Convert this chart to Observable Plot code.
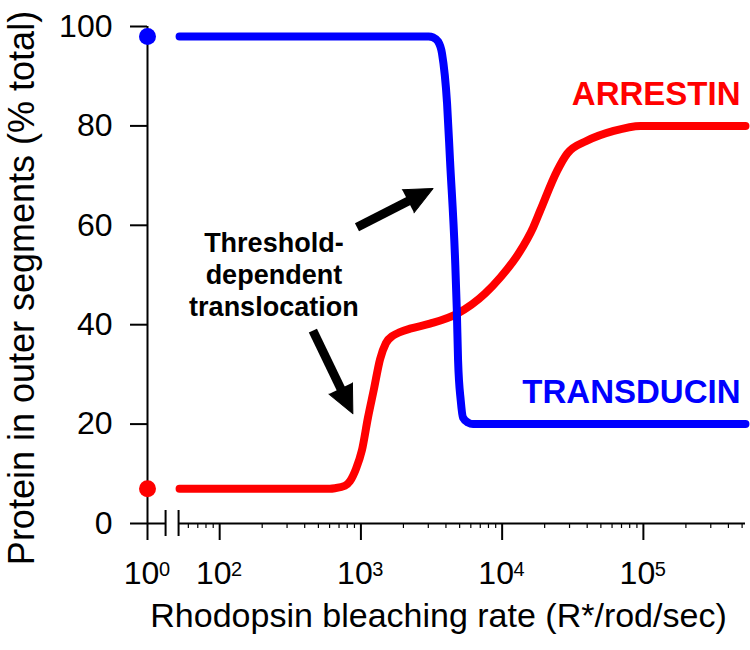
<!DOCTYPE html>
<html><head><meta charset="utf-8">
<script src="https://cdn.jsdelivr.net/npm/d3@7"></script>
<script src="https://cdn.jsdelivr.net/npm/@observablehq/plot@0.6"></script>
<style>body{margin:0;background:#fff;}</style>
</head><body><div id="chart"></div>
<script>
// ---- data ----
const transducinRate = [52, 2500, 3020, 3243, 3516, 3750, 4074, 4276, 4645, 4775, 4875, 5093, 5284, 5741, 6223, 7600, 528000];
const transducinPct  = [98, 98, 98, 97.8, 97.0, 94.6, 84.5, 73, 53, 43, 32.8, 24.7, 21.3, 20.3, 20, 20, 20];
const arrestinRate = [52, 603, 655, 771, 836, 923, 1016, 1122, 1236, 1365, 1503, 1687, 1892, 2228, 3083, 4797, 7586, 9700, 13200, 16600, 18621, 24547, 28840, 39811, 61660, 95499, 528000];
const arrestinPct  = [7, 7, 7.1, 7.6, 8.5, 11, 14.7, 21.3, 27, 33, 36.3, 37.8, 38.5, 39.2, 40.2, 42.2, 46.3, 49.5, 54.5, 59.6, 63, 71, 74.4, 77, 79, 80, 80];
const darkRate = [1, 1];               // 10^0 (dark) points on the broken axis
const darkPct = [98, 7];
const darkColor = ["#0000ff", "#ff0000"];
const seriesNames = ["ARRESTIN", "TRANSDUCIN"];
const seriesLabelPct = [86.3, 26.4];
const seriesColor = ["#ff0000", "#0000ff"];
const majorTicks = [1, 100, 1000, 10000, 100000];
const majorExp = ["0", "2", "3", "4", "5"];
const minorTicks = [60, 70, 80, 90, 200, 300, 400, 500, 600, 700, 800, 900,
  2000, 3000, 4000, 5000, 6000, 7000, 8000, 9000,
  20000, 30000, 40000, 50000, 60000, 70000, 80000, 90000,
  200000, 300000, 400000, 500000];
const yTicks = [0, 20, 40, 60, 80, 100];
const noteText = "Threshold-\ndependent\ntranslocation";
const noteRate = 242, notePct = 50.3;
const arrowFromRate = [938, 457];
const arrowFromPct = [59.6, 38.8];
const arrowToRate = [3243, 877];
const arrowToPct = [67.4, 22.1];

// ---- broken log axis ----
const BREAK_AT = 1.489;            // where 10^0 sits on the broken axis
const X_MAX = 5.723;
const GAP = [1.617, 1.709];        // axis break
const pos = r => r <= 1 ? BREAK_AT : Math.log10(r);

const W = 750, H = 650, ML = 147, MR = 5, MT = 26, MB = 127;
const PX_X = (W - ML - MR) / (X_MAX - BREAK_AT);
const PX_Y = (H - MT - MB) / 100;

const tData = transducinRate.map((r, i) => ({r, p: transducinPct[i]}));
const aData = arrestinRate.map((r, i) => ({r, p: arrestinPct[i]}));
const dots = darkRate.map((r, i) => ({r, p: darkPct[i], c: darkColor[i]}));
const labels = seriesNames.map((n, i) => ({n, p: seriesLabelPct[i], c: seriesColor[i]}));
const arrows = arrowFromRate.map((r, i) => ({x1: pos(r), y1: arrowFromPct[i], x2: pos(arrowToRate[i]), y2: arrowToPct[i]}));
const FONT = "Liberation Sans, Arial, Helvetica, sans-serif";

const chart = Plot.plot({
  width: W, height: H, marginLeft: ML, marginRight: MR, marginTop: MT, marginBottom: MB,
  x: {type: "linear", domain: [BREAK_AT, X_MAX], axis: null},
  y: {domain: [0, 100], axis: null},
  style: {fontFamily: FONT, background: "white", overflow: "visible"},
  marks: [
    // y axis line and ticks
    Plot.ruleX([BREAK_AT], {x: d => d, y1: () => 0, y2: () => 100, stroke: "black", strokeWidth: 2}),
    Plot.ruleY(yTicks, {y: d => d, x1: () => BREAK_AT - 17 / PX_X, x2: () => BREAK_AT, stroke: "black", strokeWidth: 2}),
    Plot.text(yTicks, {y: d => d, frameAnchor: "left", dx: -35, textAnchor: "end", text: d => String(d), fontSize: 32, fill: "black"}),
    // x axis with break
    Plot.ruleY([0], {y: d => d, x1: () => BREAK_AT, x2: () => GAP[0], stroke: "black", strokeWidth: 2}),
    Plot.ruleY([0], {y: d => d, x1: () => GAP[1], x2: () => X_MAX, stroke: "black", strokeWidth: 2}),
    Plot.ruleX(GAP, {x: d => d, y1: () => 13 / PX_Y, y2: () => -13 / PX_Y, stroke: "black", strokeWidth: 2}),
    Plot.ruleX(majorTicks, {x: pos, y1: () => 0, y2: () => -17 / PX_Y, stroke: "black", strokeWidth: 2}),
    Plot.ruleX(minorTicks, {x: pos, y1: () => 0, y2: () => -5 / PX_Y, stroke: "black", strokeWidth: 1.2}),
    Plot.text(majorTicks, {x: pos, frameAnchor: "bottom", text: () => "10", dx: -6, dy: 60, fontSize: 32, fill: "black"}),
    Plot.text(majorTicks, {x: pos, frameAnchor: "bottom", text: (d, i) => majorExp[i], dx: 17, dy: 52, fontSize: 20, fill: "black"}),
    // axis titles
    Plot.text(["Rhodopsin bleaching rate (R*/rod/sec)"], {frameAnchor: "bottom", text: d => d, dx: -8, dy: 103, fontSize: 34, fill: "black"}),
    Plot.text(["Protein in outer segments (% total)"], {frameAnchor: "left", textAnchor: "middle", text: d => d, rotate: -90, dx: -125, dy: 13, fontSize: 36, fill: "black"}),
    // curves
    Plot.line(aData, {x: d => pos(d.r), y: "p", stroke: "#ff0000", strokeWidth: 8, curve: "monotone-x", strokeLinecap: "round", strokeLinejoin: "round"}),
    Plot.line(tData, {x: d => pos(d.r), y: "p", stroke: "#0000ff", strokeWidth: 8, curve: "monotone-x", strokeLinecap: "round", strokeLinejoin: "round"}),
    Plot.dot(dots, {x: d => pos(d.r), y: "p", fill: "c", r: 8.5, stroke: "none"}),
    // series labels
    Plot.text(labels, {x: () => X_MAX, y: "p", text: "n", fill: "c", textAnchor: "end", dx: -5, fontSize: 33, fontWeight: "bold"}),
    // annotation
    Plot.text([noteText], {x: () => pos(noteRate), y: () => notePct, text: d => d, fontSize: 27, fontWeight: "bold", lineHeight: 1.18, fill: "black"}),
    Plot.arrow(arrows, {x1: "x1", y1: "y1", x2: "x2", y2: "y2", headLength: 0, insetEnd: 20, stroke: "black", strokeWidth: 9, strokeLinecap: "butt"}),
    Plot.vector(arrows, {x: "x2", y: "y2", anchor: "end", shape: "spike", length: 28, r: 13,
      rotate: d => Math.atan2((d.x2 - d.x1) * PX_X, (d.y2 - d.y1) * PX_Y) * 180 / Math.PI,
      fill: "black", stroke: "black", strokeWidth: 1})
  ]
});
document.getElementById("chart").appendChild(chart);
</script>
</body></html>
